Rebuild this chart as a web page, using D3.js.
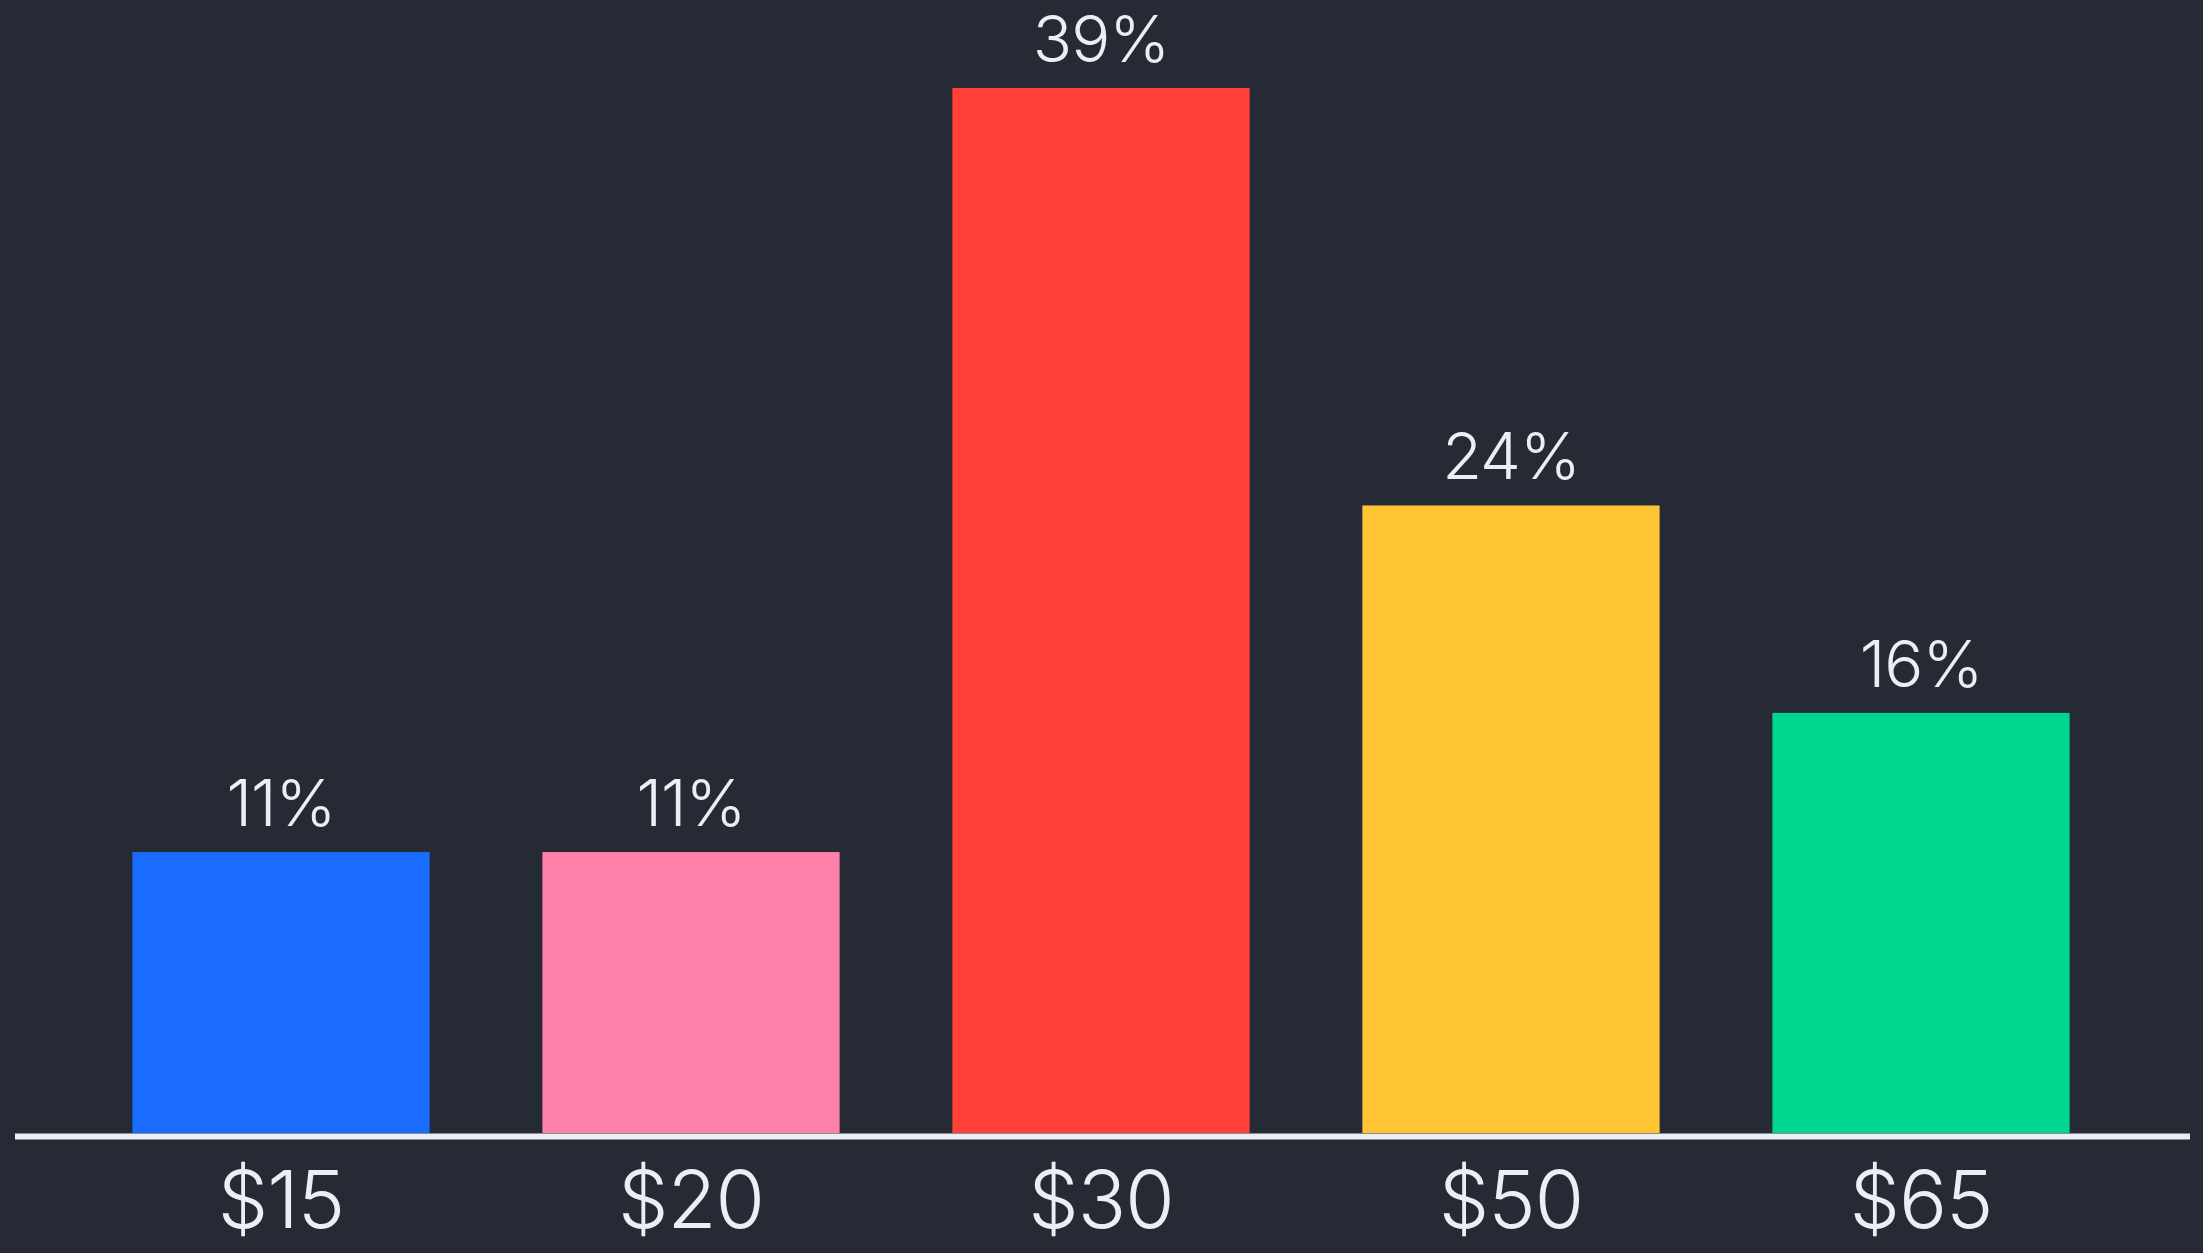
<!DOCTYPE html>
<html><head><meta charset="utf-8">
<script src="https://cdn.jsdelivr.net/npm/d3@7"></script>
<style>html,body{margin:0;padding:0;background:#262a35;overflow:hidden}</style>
</head><body>
<svg id="chart" width="2203" height="1253"></svg>
<script>
const categories = ["$15", "$20", "$30", "$50", "$65"];
const values = [10.7, 10.7, 39.8, 23.9, 16.0];
const valueLabels = ["11%", "11%", "39%", "24%", "16%"];
const colors = ["#1a6bff", "#ff80a9", "#ff413a", "#ffc535", "#00d68f"];

const W = 2203, H = 1253;
const svg = d3.select("#chart");
svg.append("rect").attr("width", W).attr("height", H).attr("fill", "#262a35");

const baseY = 1133;
const x = d3.scaleBand().domain(categories).range([76, 2126]).paddingInner(0.275).paddingOuter(0.1375);
const y = d3.scaleLinear().domain([0, 39.8]).range([baseY, 88]);

const g = svg.append("g");
g.selectAll("rect.bar").data(categories).join("rect")
  .attr("class", "bar")
  .attr("x", d => x(d))
  .attr("width", x.bandwidth())
  .attr("y", (d, i) => y(values[i]))
  .attr("height", (d, i) => baseY - y(values[i]))
  .attr("fill", (d, i) => colors[i]);

g.selectAll("text.val").data(categories).join("text")
  .attr("class", "val")
  .attr("x", d => x(d) + x.bandwidth() / 2)
  .attr("y", (d, i) => y(values[i]) - 26)
  .attr("text-anchor", "middle")
  .attr("fill", "#eceef3")
  .attr("font-family", "Inter, 'Noto Sans', sans-serif")
  .attr("font-weight", 350)
  .attr("font-size", 65)
  .attr("letter-spacing", -1)
  .text((d, i) => valueLabels[i]);

const axis = d3.axisBottom(x).tickSize(0).tickPadding(0);
const ax = svg.append("g").attr("transform", `translate(0,${baseY})`).call(axis);
ax.select(".domain").remove();
ax.append("line").attr("x1", 15).attr("x2", 2190).attr("y1", 3.5).attr("y2", 3.5)
  .attr("stroke", "#eceef3").attr("stroke-width", 6);
ax.selectAll(".tick text")
  .attr("dy", null)
  .attr("y", 95)
  .attr("fill", "#eceef3")
  .attr("font-family", "Inter, 'Noto Sans', sans-serif")
  .attr("font-weight", 350)
  .attr("font-size", 80)
  .attr("letter-spacing", -1);
</script>
</body></html>
